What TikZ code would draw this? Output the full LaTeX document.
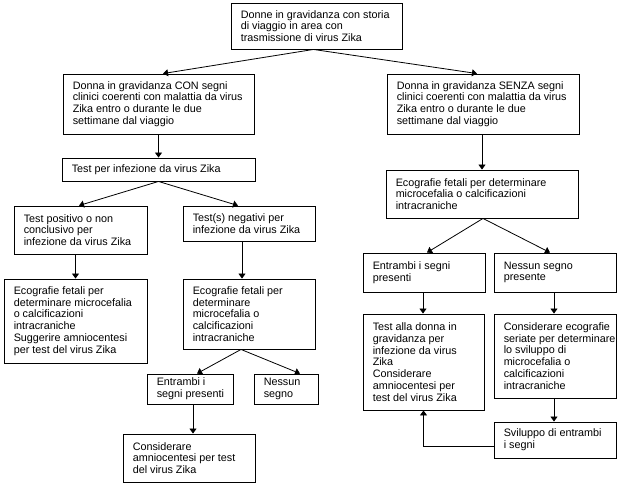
\documentclass[tikz,border=0pt]{standalone}
\usepackage{fontspec}
\setmainfont{Liberation Sans}
\usetikzlibrary{arrows.meta}
\tikzset{
  zbox/.style={draw, line width=0.9pt, inner sep=0pt},
  ztxt/.style={align=left, inner sep=0pt, font=\fontsize{10.8}{11.8}\selectfont, anchor=west},
  zarr/.style={line width=0.8pt, -{Triangle[width=7pt,length=5pt]}},
}
\newcommand\zbox[6]{%
  \node[zbox, minimum width={(#4-#2)*1pt}, minimum height={(#5-#3)*1pt}] (#1) at ({(#2+#4)/2},{(#3+#5)/2}) {};
  \node[ztxt] (#1t) at ([xshift=10pt]#1.west) {#6};
}
\begin{document}
\begin{tikzpicture}[x=1pt,y=-1pt]
\fill[white] (0,0) rectangle (630,490);
\useasboundingbox (0,0) rectangle (630,490);

\zbox{top}{231}{3}{402}{49}{Donne in gravidanza con storia\\di viaggio in area con\\trasmissione di virus Zika}
\zbox{con}{63}{74}{254}{134}{Donna in gravidanza CON segni\\clinici coerenti con malattia da virus\\Zika entro o durante le due\\settimane dal viaggio}
\zbox{senza}{387}{74}{579}{134}{Donna in gravidanza SENZA segni\\clinici coerenti con malattia da virus\\Zika entro o durante le due\\settimane dal viaggio}
\zbox{test}{62}{158}{255}{181}{Test per infezione da virus Zika}
\zbox{pos}{14}{206}{147}{254}{Test positivo o non\\conclusivo per\\infezione da virus Zika}
\zbox{neg}{183}{206}{315}{241}{Test(s) negativi per\\infezione da virus Zika}
\zbox{ecoL}{4}{279}{147}{363}{Ecografie fetali per\\determinare microcefalia\\o calcificazioni\\intracraniche\\Suggerire amniocentesi\\per test del virus Zika}
\zbox{ecoM}{183}{279}{315}{349}{Ecografie fetali per\\determinare\\microcefalia o\\calcificazioni\\intracraniche}
\zbox{entL}{147}{374}{233}{404}{Entrambi i\\segni presenti}
\zbox{nesL}{254}{374}{318}{404}{Nessun\\segno}
\zbox{consL}{123}{434}{255}{482}{Considerare\\amniocentesi per test\\del virus Zika}
\zbox{ecoR}{386}{170}{578}{218}{Ecografie fetali per determinare\\microcefalia o calcificazioni\\intracraniche}
\zbox{entR}{363}{253}{485}{292}{Entrambi i segni\\presenti}
\zbox{nesR}{494}{253}{616}{292}{Nessun segno\\presente}
\zbox{testR}{363}{314}{484}{410}{Test alla donna in\\gravidanza per\\infezione da virus\\Zika\\Considerare\\amniocentesi per\\test del virus Zika}
\zbox{consR}{494}{314}{616}{398}{Considerare ecografie\\seriate per determinare\\lo sviluppo di\\microcefalia o\\calcificazioni\\intracraniche}
\zbox{svil}{494}{422}{616}{458}{Sviluppo di entrambi\\i segni}

% connectors
\draw[zarr] ([xshift=-3pt]top.south) -- ([xshift=4.5pt]con.north);
\draw[zarr] ([xshift=-3pt]top.south) -- ([xshift=-6pt]senza.north);
\draw[zarr] (con.south) -- (con.south |- test.north);
\draw[zarr] (test.south) -- ([xshift=-1.5pt]pos.north);
\draw[zarr] (test.south) -- ([xshift=-11pt]neg.north);
\draw[zarr] (ecoL.north |- pos.south) -- (ecoL.north);
\draw[zarr] ([xshift=-7pt]neg.south) -- ([xshift=-7pt]ecoM.north);
\draw[zarr] ([xshift=-8pt]ecoM.south) -- ([xshift=7pt]entL.north);
\draw[zarr] ([xshift=-8pt]ecoM.south) -- ([xshift=14pt]nesL.north);
\draw[zarr] ([xshift=3pt]entL.south) -- ([xshift=3pt]entL.south |- consL.north);
\draw[zarr] ([xshift=-1pt]senza.south) -- ([xshift=-1pt]senza.south |- ecoR.north);
\draw[zarr] ([xshift=1pt]ecoR.south) -- ([xshift=3pt]entR.north);
\draw[zarr] ([xshift=1pt]ecoR.south) -- ([xshift=-5pt]nesR.north);
\draw[zarr] ([xshift=-1pt]entR.south) -- ([xshift=-1pt]entR.south |- testR.north);
\draw[zarr] ([xshift=-1pt]nesR.south) -- ([xshift=-1pt]nesR.south |- consR.north);
\draw[zarr] ([xshift=-1pt]consR.south) -- ([xshift=-1pt]consR.south |- svil.north);
\draw[zarr] ([yshift=-6pt]svil.west) -| (testR.south);
\end{tikzpicture}
\end{document}
